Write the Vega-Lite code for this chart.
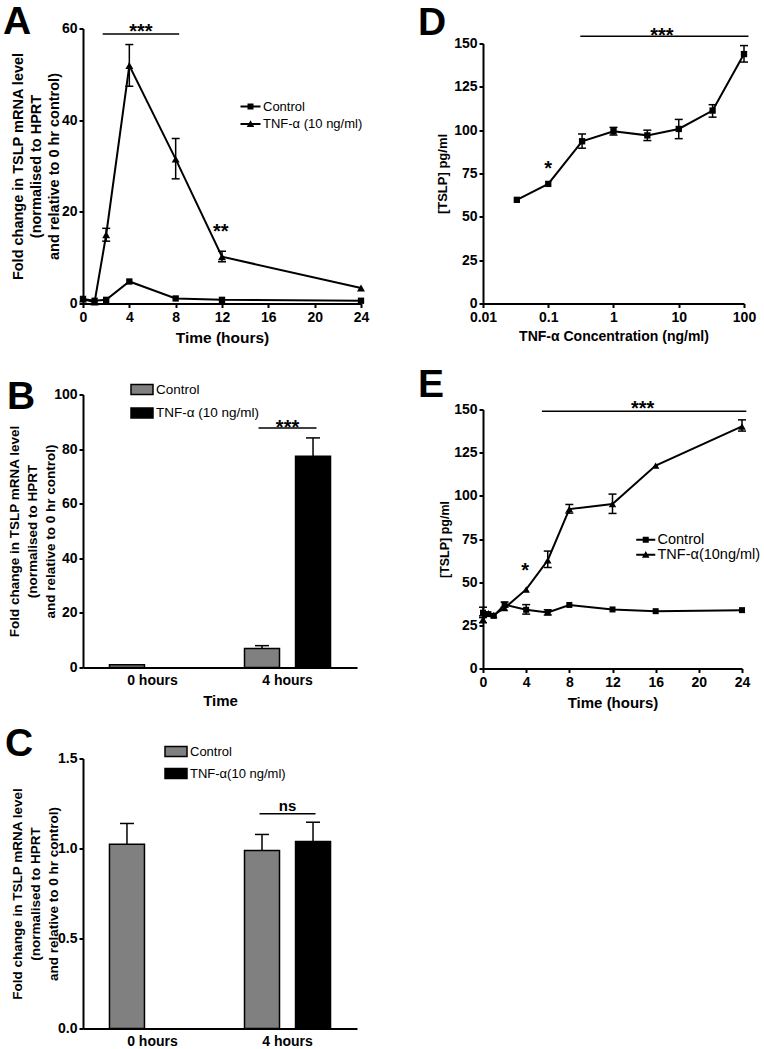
{
"$schema": "https://vega.github.io/schema/vega-lite/v6.json",
"background": "white",
"padding": {"left": 3, "top": 2.5, "right": 5, "bottom": 2},
"config": {
  "font": "Liberation Sans",
  "view": {"stroke": null},
  "axis": {"domainColor": "black", "domainWidth": 2, "tickColor": "black", "tickWidth": 2, "tickSize": 4, "labelFont": "Liberation Sans", "labelFontWeight": "bold", "labelFontSize": 14, "labelColor": "black", "titleFont": "Liberation Sans", "titleFontWeight": "bold", "titleFontSize": 15, "titleColor": "black", "grid": false, "labelPadding": 2, "labelFlush": false, "labelOverlap": false},
  "legend": {"labelFont": "Liberation Sans", "labelColor": "black", "padding": 0},
  "title": {"font": "Liberation Sans", "fontWeight": "bold", "fontSize": 39, "color": "black", "anchor": "start", "frame": "group", "baseline": "alphabetic"}
},
"datasets": {
  "A": [
    {"t": 0, "g": "Control", "v": 1.0}, {"t": 1, "g": "Control", "v": 0.6}, {"t": 2, "g": "Control", "v": 0.8}, {"t": 4, "g": "Control", "v": 4.8}, {"t": 8, "g": "Control", "v": 1.1}, {"t": 12, "g": "Control", "v": 0.8}, {"t": 24, "g": "Control", "v": 0.6},
    {"t": 0, "g": "TNF-α (10 ng/ml)", "v": 1.0}, {"t": 1, "g": "TNF-α (10 ng/ml)", "v": 0.3}, {"t": 2, "g": "TNF-α (10 ng/ml)", "v": 15.0}, {"t": 4, "g": "TNF-α (10 ng/ml)", "v": 51.9}, {"t": 8, "g": "TNF-α (10 ng/ml)", "v": 31.5}, {"t": 12, "g": "TNF-α (10 ng/ml)", "v": 10.2}, {"t": 24, "g": "TNF-α (10 ng/ml)", "v": 3.4}
  ],
  "Aerr": [{"t": 2, "lo": 13.6, "hi": 16.4}, {"t": 4, "lo": 47.4, "hi": 56.5}, {"t": 8, "lo": 27.2, "hi": 36.0}, {"t": 12, "lo": 9.1, "hi": 11.4}],
  "Arule": [{"t": 1.7, "t2": 8.3, "v": 58.8}],
  "Atext": [{"t": 5.0, "v": 57.9, "label": "***"}, {"t": 11.9, "v": 14.2, "label": "**"}],
  "D": [{"c": 0.033, "v": 59.8}, {"c": 0.1, "v": 69.0}, {"c": 0.33, "v": 93.6}, {"c": 1, "v": 99.4}, {"c": 3.3, "v": 97.0}, {"c": 10, "v": 100.7}, {"c": 33, "v": 111.3}, {"c": 100, "v": 143.9}],
  "Derr": [{"c": 0.33, "lo": 89.6, "hi": 97.8}, {"c": 1, "lo": 97.2, "hi": 101.6}, {"c": 3.3, "lo": 94.0, "hi": 100.0}, {"c": 10, "lo": 95.1, "hi": 106.2}, {"c": 33, "lo": 107.5, "hi": 114.7}, {"c": 100, "lo": 139.3, "hi": 148.8}],
  "Drule": [{"c": 0.31, "c2": 117, "v": 154.2}],
  "Dtext": [{"c": 5.5, "v": 151, "label": "***"}, {"c": 0.1, "v": 74, "label": "*"}],
  "B": [{"time": "0 hours", "g": "Control", "v": 1.0}, {"time": "4 hours", "g": "Control", "v": 7.0}, {"time": "4 hours", "g": "TNF-α (10 ng/ml)", "v": 77.4}],
  "Berr": [{"time": "4 hours", "g": "Control", "v": 7.0, "hi": 8.0}, {"time": "4 hours", "g": "TNF-α (10 ng/ml)", "v": 77.4, "hi": 84.1}],
  "Bsig": [{"time": "4 hours", "v": 87.7, "tv": 85.7, "label": "***"}],
  "C": [{"time": "0 hours", "g": "Control", "v": 1.024}, {"time": "4 hours", "g": "Control", "v": 0.989}, {"time": "4 hours", "g": "TNF-α(10 ng/ml)", "v": 1.039}],
  "Cerr": [{"time": "0 hours", "g": "Control", "v": 1.024, "hi": 1.139}, {"time": "4 hours", "g": "Control", "v": 0.989, "hi": 1.078}, {"time": "4 hours", "g": "TNF-α(10 ng/ml)", "v": 1.039, "hi": 1.146}],
  "Csig": [{"time": "4 hours", "v": 1.193, "tv": 1.211, "label": "ns"}],
  "E": [
    {"t": 0, "g": "Control", "v": 32.3}, {"t": 0.5, "g": "Control", "v": 31.5}, {"t": 1, "g": "Control", "v": 30.5}, {"t": 2, "g": "Control", "v": 37.0}, {"t": 4, "g": "Control", "v": 34.0}, {"t": 6, "g": "Control", "v": 32.5}, {"t": 8, "g": "Control", "v": 36.8}, {"t": 12, "g": "Control", "v": 34.2}, {"t": 16, "g": "Control", "v": 33.2}, {"t": 24, "g": "Control", "v": 33.8},
    {"t": 0, "g": "TNF-α(10ng/ml)", "v": 28.5}, {"t": 0.5, "g": "TNF-α(10ng/ml)", "v": 32.0}, {"t": 1, "g": "TNF-α(10ng/ml)", "v": 31.0}, {"t": 2, "g": "TNF-α(10ng/ml)", "v": 35.0}, {"t": 4, "g": "TNF-α(10ng/ml)", "v": 45.8}, {"t": 6, "g": "TNF-α(10ng/ml)", "v": 62.7}, {"t": 8, "g": "TNF-α(10ng/ml)", "v": 92.3}, {"t": 12, "g": "TNF-α(10ng/ml)", "v": 95.3}, {"t": 16, "g": "TNF-α(10ng/ml)", "v": 117.5}, {"t": 24, "g": "TNF-α(10ng/ml)", "v": 140.2}
  ],
  "Eerr": [{"t": 0, "lo": 29.5, "hi": 35.5}, {"t": 2, "lo": 35.5, "hi": 38.5}, {"t": 4, "lo": 31.5, "hi": 37.0}, {"t": 6, "lo": 31.0, "hi": 34.0}, {"t": 0, "lo": 26.5, "hi": 30.5}, {"t": 6, "lo": 58.5, "hi": 68.0}, {"t": 8, "lo": 90.0, "hi": 95.0}, {"t": 12, "lo": 89.8, "hi": 101.0}, {"t": 24, "lo": 137.5, "hi": 144.0}],
  "Erule": [{"t": 5.46, "t2": 24.4, "v": 149}],
  "Etext": [{"t": 14.8, "v": 147, "label": "***"}, {"t": 3.9, "v": 53, "label": "*"}]
},
"spacing": 47,
"resolve": {"scale": {"shape": "independent", "fill": "independent", "xOffset": "independent", "color": "independent"}, "legend": {"shape": "independent", "fill": "independent"}},
"hconcat": [
  {
    "spacing": 91,
    "bounds": "flush",
    "resolve": {"scale": {"shape": "independent", "fill": "independent", "xOffset": "independent", "color": "independent"}, "legend": {"shape": "independent", "fill": "independent"}},
    "vconcat": [
      {
        "width": 278, "height": 275,
        "title": {"text": "A", "dx": -80, "offset": -20.4},
        "encoding": {
          "x": {"field": "t", "type": "quantitative", "scale": {"domain": [0, 24], "nice": false, "zero": false}, "axis": {"values": [0, 4, 8, 12, 16, 20, 24], "labelPadding": 3, "titlePadding": 6, "titleFontSize": 15.5}, "title": "Time (hours)"},
          "y": {"field": "v", "type": "quantitative", "scale": {"domain": [0, 60], "nice": false}, "axis": {"values": [0, 20, 40, 60], "titlePadding": 0, "titleFontSize": 14.5, "titleLineHeight": 18}, "title": ["Fold change in TSLP mRNA level", "(normalised to HPRT", "and relative to 0 hr control)"]}
        },
        "layer": [
          {"data": {"name": "Aerr"}, "mark": {"type": "errorbar", "ticks": {"opacity": 1}, "size": 8, "thickness": 1.5, "color": "black"}, "encoding": {"y": {"field": "lo", "type": "quantitative", "scale": {"domain": [0, 60], "nice": false}, "axis": {"values": [0, 20, 40, 60], "titlePadding": 0, "titleFontSize": 14.5, "titleLineHeight": 18}, "title": ["Fold change in TSLP mRNA level", "(normalised to HPRT", "and relative to 0 hr control)"]}, "y2": {"field": "hi"}}},
          {"data": {"name": "A"}, "mark": {"type": "line", "color": "black", "strokeWidth": 2}, "encoding": {"detail": {"field": "g", "type": "nominal"}}},
          {"data": {"name": "A"}, "transform": [{"filter": "datum.g == 'Control'"}], "mark": {"type": "point", "shape": "square", "filled": true, "size": 40, "opacity": 1, "color": "black"}},
          {"data": {"name": "A"}, "transform": [{"filter": "datum.g != 'Control'"}], "mark": {"type": "point", "shape": "triangle-up", "filled": true, "size": 64, "opacity": 1, "color": "black"}},
          {"data": {"name": "A"}, "mark": {"type": "point", "filled": true, "size": 400, "opacity": 0, "color": "black"}, "encoding": {"shape": {"field": "g", "type": "nominal", "scale": {"domain": ["Control", "TNF-α (10 ng/ml)"], "range": ["M-1,-0.1H1V0.1H-1ZM-0.3,-0.3H0.3V0.3H-0.3Z", "M-1,-0.1H1V0.1H-1ZM0,-0.38L0.38,0.3H-0.38Z"]}, "legend": {"orient": "none", "legendX": 157.5, "legendY": 68, "title": null, "symbolSize": 400, "symbolFillColor": "black", "symbolStrokeWidth": 0, "symbolOpacity": 1, "labelFontSize": 13, "labelOffset": 2.5, "rowPadding": 0.5, "encode": {"symbols": {"update": {"fill": {"value": "black"}, "opacity": {"value": 1}, "fillOpacity": {"value": 1}, "size": {"value": 400}}}}}}}},
          {"data": {"name": "Arule"}, "mark": {"type": "rule", "color": "black", "strokeWidth": 1.5}, "encoding": {"x2": {"field": "t2"}}},
          {"data": {"name": "Atext"}, "mark": {"type": "text", "font": "Liberation Sans", "fontWeight": "bold", "fontSize": 20, "baseline": "alphabetic", "align": "center", "color": "black"}, "encoding": {"text": {"field": "label"}}}
        ]
      },
      {
        "width": 274, "height": 273,
        "title": {"text": "B", "dx": -76, "offset": -39},
        "encoding": {
          "x": {"field": "time", "type": "nominal", "scale": {"domain": ["0 hours", "4 hours"], "paddingInner": 0.363, "paddingOuter": 0.196}, "axis": {"ticks": false, "labelAngle": 0, "labelPadding": 6, "titlePadding": 6}, "title": "Time"},
          "y": {"field": "v", "type": "quantitative", "stack": null, "scale": {"domain": [0, 100], "nice": false}, "axis": {"values": [0, 20, 40, 60, 80, 100], "titlePadding": -4, "titleFontSize": 13.5, "titleLineHeight": 18}, "title": ["Fold change in TSLP mRNA level", "(normalised to HPRT", "and relative to 0 hr control)"]}
        },
        "layer": [
          {"data": {"name": "B"}, "mark": {"type": "bar", "stroke": "black", "strokeWidth": 1.5}, "encoding": {"xOffset": {"field": "g", "type": "nominal", "scale": {"domain": ["Control", "TNF-α (10 ng/ml)"], "paddingInner": 0.314, "paddingOuter": 0}}, "fill": {"field": "g", "type": "nominal", "scale": {"domain": ["Control", "TNF-α (10 ng/ml)"], "range": ["#808080", "#000000"]}, "legend": {"orient": "none", "legendX": 47, "legendY": -17, "title": null, "symbolType": "M-1,-0.45H1V0.45H-1Z", "symbolSize": 484, "symbolStrokeColor": "black", "symbolStrokeWidth": 1.5, "labelFontSize": 13.5, "labelOffset": 2, "rowPadding": 3.5, "encode": {"symbols": {"update": {"stroke": {"value": "black"}, "strokeWidth": {"value": 1.5}, "opacity": {"value": 1}}}}}}}},
          {"data": {"name": "Berr"}, "mark": {"type": "rule", "color": "black", "strokeWidth": 1.5}, "encoding": {"xOffset": {"field": "g", "type": "nominal"}, "y2": {"field": "hi"}}},
          {"data": {"name": "Berr"}, "mark": {"type": "tick", "color": "black", "size": 14, "thickness": 1.5, "opacity": 1}, "encoding": {"xOffset": {"field": "g", "type": "nominal"}, "y": {"field": "hi", "type": "quantitative", "stack": null, "scale": {"domain": [0, 100], "nice": false}, "axis": {"values": [0, 20, 40, 60, 80, 100], "titlePadding": -4, "titleFontSize": 13.5, "titleLineHeight": 18}, "title": ["Fold change in TSLP mRNA level", "(normalised to HPRT", "and relative to 0 hr control)"]}}},
          {"data": {"name": "Bsig"}, "mark": {"type": "tick", "color": "black", "size": 58, "thickness": 1.5, "opacity": 1}},
          {"data": {"name": "Bsig"}, "mark": {"type": "text", "font": "Liberation Sans", "fontWeight": "bold", "fontSize": 20, "baseline": "alphabetic", "align": "center", "color": "black"}, "encoding": {"y": {"field": "tv", "type": "quantitative", "stack": null, "scale": {"domain": [0, 100], "nice": false}, "axis": {"values": [0, 20, 40, 60, 80, 100], "titlePadding": -4, "titleFontSize": 13.5, "titleLineHeight": 18}, "title": ["Fold change in TSLP mRNA level", "(normalised to HPRT", "and relative to 0 hr control)"]}, "text": {"field": "label"}}}
        ]
      },
      {
        "width": 274, "height": 270,
        "title": {"text": "C", "dx": -78, "offset": -24},
        "encoding": {
          "x": {"field": "time", "type": "nominal", "scale": {"domain": ["0 hours", "4 hours"], "paddingInner": 0.363, "paddingOuter": 0.196}, "axis": {"ticks": false, "labelAngle": 0, "labelPadding": 6}, "title": null},
          "y": {"field": "v", "type": "quantitative", "stack": null, "scale": {"domain": [0, 1.5], "nice": false}, "axis": {"values": [0, 0.5, 1, 1.5], "format": ".1f", "titlePadding": -3, "titleFontSize": 13.5, "titleLineHeight": 18}, "title": ["Fold change in TSLP mRNA level", "(normalised to HPRT", "and relative to 0 hr control)"]}
        },
        "layer": [
          {"data": {"name": "C"}, "mark": {"type": "bar", "stroke": "black", "strokeWidth": 1.5}, "encoding": {"xOffset": {"field": "g", "type": "nominal", "scale": {"domain": ["Control", "TNF-α(10 ng/ml)"], "paddingInner": 0.314, "paddingOuter": 0}}, "fill": {"field": "g", "type": "nominal", "scale": {"domain": ["Control", "TNF-α(10 ng/ml)"], "range": ["#808080", "#000000"]}, "legend": {"orient": "none", "legendX": 81, "legendY": -19, "title": null, "symbolType": "M-1,-0.45H1V0.45H-1Z", "symbolSize": 484, "symbolStrokeColor": "black", "symbolStrokeWidth": 1.5, "labelFontSize": 13, "labelOffset": 2, "rowPadding": 2, "encode": {"symbols": {"update": {"stroke": {"value": "black"}, "strokeWidth": {"value": 1.5}, "opacity": {"value": 1}}}}}}}},
          {"data": {"name": "Cerr"}, "mark": {"type": "rule", "color": "black", "strokeWidth": 1.5}, "encoding": {"xOffset": {"field": "g", "type": "nominal"}, "y2": {"field": "hi"}}},
          {"data": {"name": "Cerr"}, "mark": {"type": "tick", "color": "black", "size": 14, "thickness": 1.5, "opacity": 1}, "encoding": {"xOffset": {"field": "g", "type": "nominal"}, "y": {"field": "hi", "type": "quantitative", "stack": null, "scale": {"domain": [0, 1.5], "nice": false}, "axis": {"values": [0, 0.5, 1, 1.5], "format": ".1f", "titlePadding": -3, "titleFontSize": 13.5, "titleLineHeight": 18}, "title": ["Fold change in TSLP mRNA level", "(normalised to HPRT", "and relative to 0 hr control)"]}}},
          {"data": {"name": "Csig"}, "mark": {"type": "tick", "color": "black", "size": 56, "thickness": 1.5, "opacity": 1}},
          {"data": {"name": "Csig"}, "mark": {"type": "text", "font": "Liberation Sans", "fontWeight": "bold", "fontSize": 15, "baseline": "alphabetic", "align": "center", "color": "black"}, "encoding": {"y": {"field": "tv", "type": "quantitative", "stack": null, "scale": {"domain": [0, 1.5], "nice": false}, "axis": {"values": [0, 0.5, 1, 1.5], "format": ".1f", "titlePadding": -3, "titleFontSize": 13.5, "titleLineHeight": 18}, "title": ["Fold change in TSLP mRNA level", "(normalised to HPRT", "and relative to 0 hr control)"]}, "text": {"field": "label"}}}
        ]
      }
    ]
  },
  {
    "spacing": 0,
    "bounds": "flush",
    "resolve": {"scale": {"shape": "independent", "fill": "independent", "xOffset": "independent", "color": "independent"}, "legend": {"shape": "independent", "fill": "independent"}},
    "vconcat": [
      {"width": 261, "height": 15, "data": {"values": []}, "mark": {"type": "point", "opacity": 0}},
      {
        "spacing": 106,
        "bounds": "flush",
        "resolve": {"scale": {"shape": "independent", "fill": "independent", "xOffset": "independent", "color": "independent"}, "legend": {"shape": "independent", "fill": "independent"}},
        "vconcat": [
          {
            "width": 261, "height": 260,
            "title": {"text": "D", "dx": -65, "offset": -17.2},
            "encoding": {
              "x": {"field": "c", "type": "quantitative", "scale": {"type": "log", "domain": [0.01, 100], "nice": false}, "axis": {"values": [0.01, 0.1, 1, 10, 100], "format": "~g", "labelPadding": 3, "titlePadding": 5, "titleFontSize": 14}, "title": "TNF-α Concentration (ng/ml)"},
              "y": {"field": "v", "type": "quantitative", "scale": {"domain": [0, 150], "nice": false}, "axis": {"values": [0, 25, 50, 75, 100, 125, 150], "titlePadding": 4, "titleFontSize": 13}, "title": "[TSLP] pg/ml"}
            },
            "layer": [
              {"data": {"name": "Derr"}, "mark": {"type": "errorbar", "ticks": {"opacity": 1}, "size": 8, "thickness": 1.5, "color": "black"}, "encoding": {"y": {"field": "lo", "type": "quantitative", "scale": {"domain": [0, 150], "nice": false}, "axis": {"values": [0, 25, 50, 75, 100, 125, 150], "titlePadding": 4, "titleFontSize": 13}, "title": "[TSLP] pg/ml"}, "y2": {"field": "hi"}}},
              {"data": {"name": "D"}, "mark": {"type": "line", "color": "black", "strokeWidth": 2}},
              {"data": {"name": "D"}, "mark": {"type": "point", "shape": "square", "filled": true, "size": 40, "opacity": 1, "color": "black"}},
              {"data": {"name": "Drule"}, "mark": {"type": "rule", "color": "black", "strokeWidth": 1.5}, "encoding": {"x2": {"field": "c2"}}},
              {"data": {"name": "Dtext"}, "mark": {"type": "text", "font": "Liberation Sans", "fontWeight": "bold", "fontSize": 20, "baseline": "alphabetic", "align": "center", "color": "black"}, "encoding": {"text": {"field": "label"}}}
            ]
          },
          {
            "width": 259, "height": 259,
            "title": {"text": "E", "dx": -65, "offset": -6.5},
            "encoding": {
              "x": {"field": "t", "type": "quantitative", "scale": {"domain": [0, 24], "nice": false, "zero": false}, "axis": {"values": [0, 4, 8, 12, 16, 20, 24], "labelPadding": 3, "titlePadding": 6, "titleFontSize": 15}, "title": "Time (hours)"},
              "y": {"field": "v", "type": "quantitative", "scale": {"domain": [0, 150], "nice": false}, "axis": {"values": [0, 25, 50, 75, 100, 125, 150], "titlePadding": 2.5, "titleFontSize": 12.5}, "title": "[TSLP] pg/ml"}
            },
            "layer": [
              {"data": {"name": "Eerr"}, "mark": {"type": "errorbar", "ticks": {"opacity": 1}, "size": 8, "thickness": 1.5, "color": "black"}, "encoding": {"y": {"field": "lo", "type": "quantitative", "scale": {"domain": [0, 150], "nice": false}, "axis": {"values": [0, 25, 50, 75, 100, 125, 150], "titlePadding": 2.5, "titleFontSize": 12.5}, "title": "[TSLP] pg/ml"}, "y2": {"field": "hi"}}},
              {"data": {"name": "E"}, "mark": {"type": "line", "color": "black", "strokeWidth": 2}, "encoding": {"detail": {"field": "g", "type": "nominal"}}},
              {"data": {"name": "E"}, "transform": [{"filter": "datum.g == 'Control'"}], "mark": {"type": "point", "shape": "square", "filled": true, "size": 36, "opacity": 1, "color": "black"}},
              {"data": {"name": "E"}, "transform": [{"filter": "datum.g != 'Control'"}], "mark": {"type": "point", "shape": "triangle-up", "filled": true, "size": 56, "opacity": 1, "color": "black"}},
              {"data": {"name": "E"}, "mark": {"type": "point", "filled": true, "size": 196, "opacity": 0, "color": "black"}, "encoding": {"shape": {"field": "g", "type": "nominal", "scale": {"domain": ["Control", "TNF-α(10ng/ml)"], "range": ["M-1.36,-0.14H1.36V0.14H-1.36ZM-0.43,-0.43H0.43V0.43H-0.43Z", "M-1.36,-0.14H1.36V0.14H-1.36ZM0,-0.54L0.54,0.43H-0.54Z"]}, "legend": {"orient": "none", "legendX": 155.5, "legendY": 123, "title": null, "symbolSize": 196, "symbolFillColor": "black", "symbolStrokeWidth": 0, "symbolOpacity": 1, "labelFontSize": 14.5, "labelOffset": 4.5, "rowPadding": 0, "encode": {"symbols": {"update": {"fill": {"value": "black"}, "opacity": {"value": 1}, "fillOpacity": {"value": 1}, "size": {"value": 196}}}}}}}},
              {"data": {"name": "Erule"}, "mark": {"type": "rule", "color": "black", "strokeWidth": 1.5}, "encoding": {"x2": {"field": "t2"}}},
              {"data": {"name": "Etext"}, "mark": {"type": "text", "font": "Liberation Sans", "fontWeight": "bold", "fontSize": 20, "baseline": "alphabetic", "align": "center", "color": "black"}, "encoding": {"text": {"field": "label"}}}
            ]
          }
        ]
      }
    ]
  }
]
}
